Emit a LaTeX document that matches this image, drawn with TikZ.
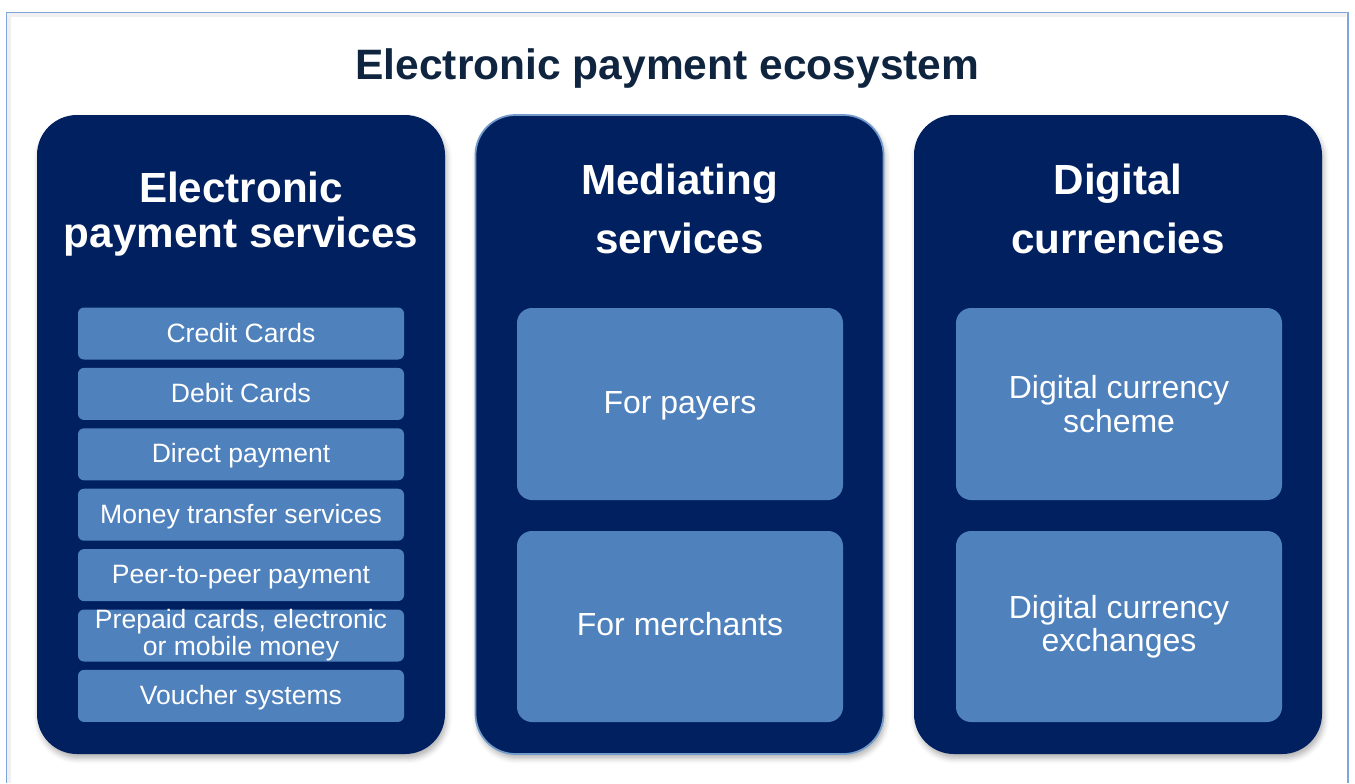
\documentclass[tikz,border=0pt]{standalone}
\usepackage{fontspec}
\setmainfont{Liberation Sans}
\usetikzlibrary{calc, shadows.blur}
\definecolor{panelnavy}{HTML}{002060}
\definecolor{tileblue}{HTML}{4F81BD}
\definecolor{titleink}{HTML}{0F243E}
\definecolor{framelight}{HTML}{7EA6DC}
\tikzset{
    panel/.style={fill=panelnavy, rounded corners=.8cm, minimum width=8.16cm,
        minimum height=12.78cm, inner sep=0pt, blur shadow={shadow xshift=1pt,
        shadow yshift=-2.5pt, shadow blur radius=3pt, shadow opacity=30}},
    heading/.style={text=white, align=center, inner sep=0pt,
        font=\fontsize{24}{33.5}\selectfont\bfseries},
    smalltile/.style={fill=tileblue, rounded corners=.12cm, minimum width=6.52cm,
        minimum height=1.04cm, inner sep=0pt, text=white, align=center,
        font=\fontsize{15.1}{15.4}\selectfont},
    bigtile/.style={fill=tileblue, rounded corners=.3cm, minimum width=6.52cm,
        minimum height=3.84cm, inner sep=0pt, text=white, align=center,
        font=\fontsize{18.2}{18.9}\selectfont},
    smallline/.style={text height=11pt, text depth=1.3pt},
    bigline/.style={text height=13.3pt, text depth=3pt},
}
\begin{document}
\begin{tikzpicture}
    \useasboundingbox (0, 0) rectangle (27.1, -15.66);
    \draw[gray!12, line width=2pt] (.18, -15.66) -- (.18, -.3) -- (26.91, -.3);
    \draw[framelight, line width=.9pt] (.13, -15.66) -- (.13, -.25) --
        (26.96, -.25) -- (26.96, -15.66);
    \node[text=titleink, font=\fontsize{24.2}{29}\selectfont\bfseries,
        anchor=base] (title) at (13.35, -1.58) {Electronic payment ecosystem};

    \node[panel] (eps) at (4.82, -8.69) {};
    \node[panel, draw=tileblue!80, line width=1pt] (med) at (13.59, -8.69) {};
    \node[panel] (dig) at (22.36, -8.69) {};

    \node[heading, font=\fontsize{24}{25.6}\selectfont\bfseries] (epshead)
        at (4.82, -4.29) {Electronic\\payment services};
    \node[heading] (medhead) at (13.59, -4.17) {Mediating\\services};
    \node[heading] (dighead) at (22.36, -4.18) {Digital\\currencies};

    \foreach \i/\txt in {1/Credit Cards, 2/Debit Cards, 3/Direct payment,
        4/Money transfer services, 5/Peer-to-peer payment, 7/Voucher systems}
        \node[smalltile, smallline] (eps\i) at (4.82, {-6.67-1.208*(\i-1)}) {\txt};
    \node[smalltile] (eps6) at (4.82, {-6.67-1.208*5})
        {Prepaid cards, electronic\\or mobile money};

    \node[bigtile, bigline] (payers) at (13.6, -8.08) {For payers};
    \node[bigtile, bigline, minimum height=3.82cm] (merchants) at (13.6, -12.53)
        {For merchants};
    \node[bigtile] (scheme) at (22.38, -8.08) {Digital currency\\scheme};
    \node[bigtile, minimum height=3.82cm] (exchanges) at (22.38, -12.53)
        {Digital currency\\exchanges};
\end{tikzpicture}
\end{document}
